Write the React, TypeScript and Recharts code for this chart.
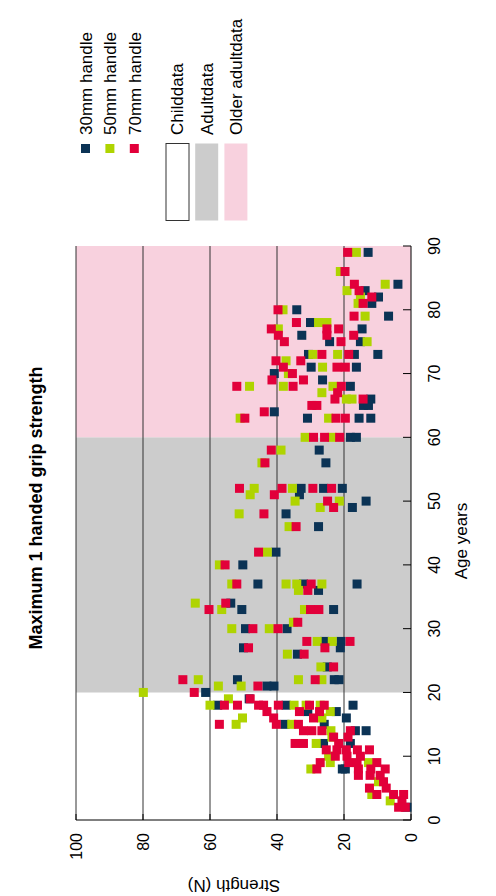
import React from "react";
import {
  ScatterChart,
  Scatter,
  XAxis,
  YAxis,
  ReferenceArea,
  ReferenceLine,
} from "recharts";

// [age in years, strength in N]
const handle30mm: [number, number][] = [
  [89, 12.8], [84, 3.9], [83, 13.7], [82, 9.7], [81, 11.7], [80, 34.1], [79, 6.7],
  [78, 30.0], [77, 14.6], [76, 32.6], [75, 24.3], [75, 15.1], [73, 30.6], [73, 16.9],
  [73, 9.9], [71, 29.8], [71, 16.3], [70, 40.8], [69, 26.4], [68, 18.1], [66, 12.0],
  [65, 14.2], [65, 12.7], [64, 40.8], [63, 30.9], [63, 15.5], [63, 12.0], [60, 18.1],
  [60, 16.3], [58, 27.4], [56, 25.4], [52, 32.8], [52, 26.1], [52, 20.5], [51, 33.3],
  [50, 13.4], [49, 17.5], [48, 37.3], [46, 27.6], [42, 40.3], [40, 50.2], [37, 45.7],
  [37, 32.1], [37, 16.1], [36, 27.6], [34, 53.8], [33, 50.5], [33, 23.1], [30, 49.4],
  [30, 37.0], [28, 25.8], [28, 20.9], [27, 50.0], [27, 21.1], [26, 33.9], [24, 25.0],
  [22, 51.8], [22, 22.9], [22, 21.5], [21, 43.0], [21, 40.9], [20, 61.3], [19, 48.3],
  [18, 57.7], [18, 37.3], [18, 17.3], [17, 30.8], [17, 22.3], [16, 19.3], [15, 37.6],
  [15, 25.9], [14, 16.6], [14, 13.4], [12, 26.1], [12, 18.1], [8, 20.5], [8, 19.6],
  [2, 1.2],
];

const handle50mm: [number, number][] = [
  [89, 16.3], [86, 21.1], [84, 7.7], [83, 19.1], [82, 15.1], [81, 15.8], [80, 38.2],
  [79, 13.7], [78, 27.6], [78, 25.1], [77, 39.6], [75, 13.1], [73, 29.3], [73, 21.9],
  [72, 37.3], [71, 26.4], [70, 36.6], [68, 48.2], [68, 38.1], [68, 23.3], [67, 26.6],
  [66, 19.3], [66, 17.6], [63, 51.0], [63, 24.6], [60, 31.6], [60, 23.6], [58, 38.8],
  [56, 44.5], [52, 46.8], [52, 35.4], [51, 48.0], [50, 34.6], [50, 21.4], [49, 27.1],
  [48, 51.3], [46, 36.4], [42, 42.9], [40, 57.2], [37, 53.5], [37, 37.3], [37, 34.1],
  [37, 26.6], [36, 33.6], [34, 64.4], [33, 56.5], [33, 31.8], [31, 35.1], [30, 53.5],
  [30, 42.3], [28, 28.0], [28, 23.5], [26, 36.9], [24, 26.9], [22, 63.5], [22, 33.6],
  [22, 26.6], [21, 57.5], [21, 50.7], [20, 79.9], [19, 54.5], [18, 60.0], [18, 34.9],
  [18, 31.3], [18, 27.1], [17, 24.1], [16, 50.3], [16, 26.6], [15, 52.2], [15, 35.6],
  [14, 23.9], [13, 23.6], [12, 28.3], [10, 24.6], [9, 24.1], [9, 12.7], [8, 29.9],
  [6, 9.7], [4, 11.7], [3, 6.2],
];

const handle70mm: [number, number][] = [
  [89, 18.9], [86, 19.7], [84, 16.9], [83, 15.5], [82, 11.7], [81, 14.3], [80, 39.7],
  [79, 17.0], [78, 34.2], [77, 41.7], [77, 25.1], [77, 21.6], [76, 39.6], [76, 25.1],
  [76, 17.1], [75, 37.8], [75, 20.9], [73, 26.6], [73, 18.6], [72, 40.3], [72, 32.9],
  [71, 38.1], [71, 22.1], [71, 19.6], [70, 35.4], [69, 41.5], [69, 32.1], [68, 52.0],
  [68, 35.2], [68, 20.8], [67, 21.9], [66, 22.7], [66, 14.3], [65, 29.6], [65, 28.1],
  [64, 43.8], [63, 49.6], [63, 22.4], [63, 19.6], [60, 29.1], [60, 25.8], [60, 21.3],
  [58, 41.7], [56, 43.6], [52, 51.2], [52, 38.5], [52, 29.3], [52, 23.7], [51, 40.8],
  [50, 24.9], [49, 23.1], [48, 43.9], [46, 34.3], [42, 45.5], [40, 55.5], [37, 52.0],
  [37, 29.8], [36, 30.8], [34, 55.3], [33, 60.3], [33, 30.0], [33, 27.5], [31, 33.8],
  [30, 47.2], [30, 39.7], [28, 31.1], [28, 18.2], [27, 48.5], [27, 25.7], [26, 31.9],
  [24, 23.1], [22, 68.1], [22, 28.6], [21, 45.7], [20, 64.7], [19, 48.0], [18, 55.7],
  [18, 51.8], [18, 45.5], [18, 44.0], [18, 39.6], [18, 30.3], [18, 25.9], [17, 43.0],
  [17, 33.3], [17, 27.3], [16, 41.0], [16, 29.1], [15, 57.2], [15, 40.2], [15, 33.6],
  [14, 32.1], [14, 29.6], [14, 26.6], [14, 18.1], [13, 23.1], [13, 18.8], [12, 34.6],
  [12, 32.1], [12, 21.6], [11, 25.3], [11, 22.1], [11, 19.3], [11, 16.0], [11, 12.4],
  [10, 22.6], [10, 19.1], [10, 15.1], [9, 27.1], [9, 18.6], [9, 16.1], [9, 10.2],
  [8, 28.1], [8, 15.7], [8, 12.0], [8, 7.7], [7, 15.7], [7, 12.2], [7, 9.2], [6, 8.2],
  [5, 12.4], [5, 7.4], [4, 10.2], [4, 5.2], [4, 2.2], [3, 2.7], [2, 3.7], [2, 1.7],
];

const ageTicks = [0, 10, 20, 30, 40, 50, 60, 70, 80, 90];
const strengthTicks = [0, 20, 40, 60, 80, 100];
const gridLines = [20, 40, 60, 80, 100];

const seriesNames = ["30mm handle", "50mm handle", "70mm handle"];
const bandNames = ["Childdata", "Adultdata", "Older adultdata"];
// age ranges of the three shaded bands
const bandEdges = [0, 20, 60, 90];

const NAVY = "#0b3355";
const LIME = "#afd400";
const RED = "#e2003a";
const GREY = "#cccccc";
const PINK = "#f8d1de";
const FONT = '"Liberation Sans", Arial, Helvetica, sans-serif';

const toPoints = (rows: [number, number][]) =>
  rows.map(([age, strength]) => ({ age, strength }));

const square = (color: string) => (props: any) => {
  const { cx, cy } = props;
  if (cx == null || cy == null) return <g />;
  return <rect x={cx - 4.5} y={cy - 4.5} width={9} height={9} fill={color} />;
};

function AgeTick(props: any) {
  const { x, y, payload } = props;
  return (
    <g>
      <line x1={x} x2={x} y1={y} y2={y - 8} stroke="#000" strokeWidth={1} />
      <text x={x} y={y + 29} textAnchor="middle" fontSize={16} fill="#000" fontFamily={FONT}>
        {payload.value}
      </text>
    </g>
  );
}

function StrengthTick(props: any) {
  const { x, y, payload } = props;
  return (
    <g>
      <line x1={x + 13} x2={x + 19} y1={y} y2={y} stroke="#000" strokeWidth={1} />
      <text x={x} y={y} dy="0.36em" textAnchor="end" fontSize={16} fill="#000" fontFamily={FONT}>
        {payload.value}
      </text>
    </g>
  );
}

export default function App() {
  const seriesColors = [NAVY, LIME, RED];
  const bandColors = ["#ffffff", GREY, PINK];
  return (
    <div
      style={{
        position: "absolute",
        left: 0,
        top: 0,
        width: 496,
        height: 896,
        overflow: "hidden",
        background: "#fff",
      }}
    >
      {/* the figure is drawn landscape and turned a quarter counter-clockwise */}
      <div
        style={{
          position: "absolute",
          left: 0,
          top: 0,
          width: 896,
          height: 496,
          transformOrigin: "0 0",
          transform: "translate(0px, 896px) rotate(-90deg)",
          fontFamily: FONT,
        }}
      >
        <ScatterChart
          width={896}
          height={496}
          margin={{ top: 76, right: 246, bottom: 0, left: 0 }}
        >
          <XAxis
            type="number"
            dataKey="age"
            domain={[0, 90]}
            ticks={ageTicks}
            height={85}
            axisLine={{ stroke: "#000", strokeWidth: 1 }}
            tickLine={false}
            tickSize={0}
            tickMargin={0}
            tick={<AgeTick />}
          />
          <YAxis
            type="number"
            dataKey="strength"
            domain={[0, 100]}
            ticks={strengthTicks}
            width={76}
            axisLine={{ stroke: "#000", strokeWidth: 1 }}
            tickLine={false}
            tickSize={0}
            tickMargin={13}
            tick={<StrengthTick />}
          />
          {bandNames.map((name, i) => (
            <ReferenceArea
              key={name}
              x1={bandEdges[i]}
              x2={bandEdges[i + 1]}
              y1={0}
              y2={100}
              fill={bandColors[i]}
              fillOpacity={1}
              stroke="none"
            />
          ))}
          {gridLines.map((v) => (
            <ReferenceLine key={v} y={v} stroke="#333" strokeWidth={1} />
          ))}
          <Scatter name={seriesNames[0]} data={toPoints(handle30mm)} fill={NAVY} shape={square(NAVY)} isAnimationActive={false} />
          <Scatter name={seriesNames[1]} data={toPoints(handle50mm)} fill={LIME} shape={square(LIME)} isAnimationActive={false} />
          <Scatter name={seriesNames[2]} data={toPoints(handle70mm)} fill={RED} shape={square(RED)} isAnimationActive={false} />
        </ScatterChart>

        <svg
          width={896}
          height={496}
          style={{ position: "absolute", left: 0, top: 0, pointerEvents: "none" }}
          fontFamily={FONT}
        >
          <text x={388} y={41.5} textAnchor="middle" fontSize={18} fontWeight="bold" fill="#000">
            Maximum 1 handed grip strength
          </text>
          <text x={355} y={467} textAnchor="middle" fontSize={17} fill="#000">
            Age years
          </text>
          <text
            transform="translate(15.7, 234) rotate(-90)"
            textAnchor="middle"
            fontSize={17}
            fill="#000"
          >
            Strength (N)
          </text>

          {seriesNames.map((name, i) => {
            const cy = 85.5 + i * 24.4;
            return (
              <g key={name}>
                <rect x={743} y={cy - 4.5} width={9} height={9} fill={seriesColors[i]} />
                <text x={761} y={cy + 6.2} fontSize={17} fill="#000">
                  {name}
                </text>
              </g>
            );
          })}

          {bandNames.map((name, i) => {
            const top = 166 + i * 29.2;
            return (
              <g key={name}>
                <rect
                  x={675.5}
                  y={top}
                  width={77}
                  height={23}
                  fill={bandColors[i]}
                  stroke={i === 0 ? "#333" : "none"}
                  strokeWidth={1}
                />
                <text x={761} y={top + 17.3} fontSize={17} fill="#000">
                  {name}
                </text>
              </g>
            );
          })}
        </svg>
      </div>
    </div>
  );
}
